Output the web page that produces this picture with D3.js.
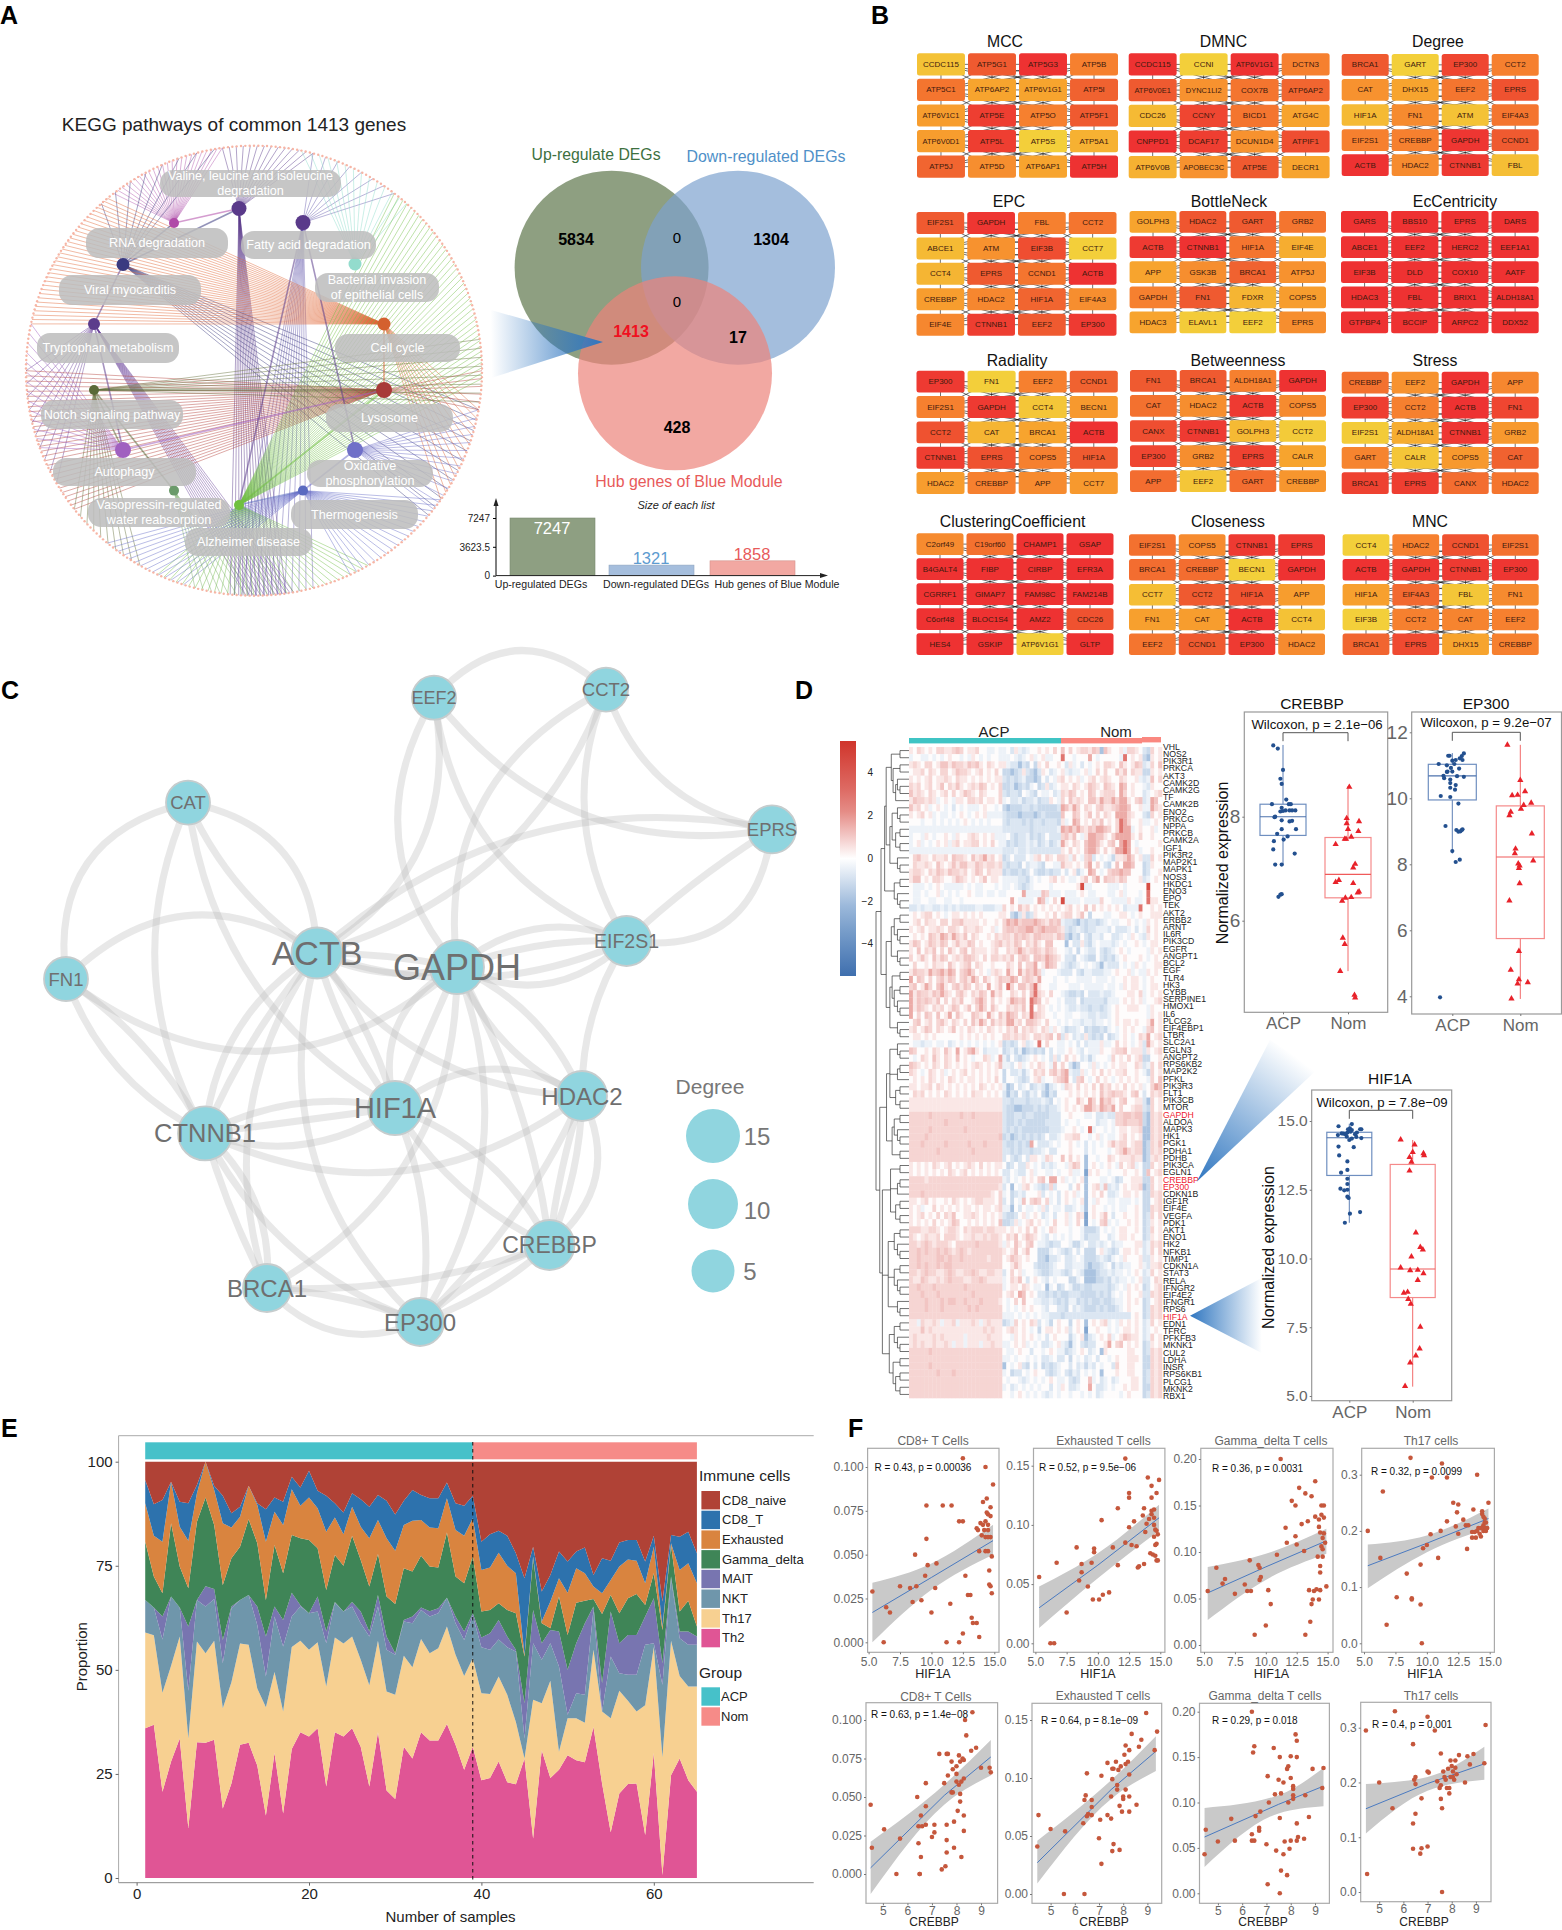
<!DOCTYPE html>
<html><head><meta charset="utf-8">
<script src="https://cdn.jsdelivr.net/npm/d3@7"></script>
<style>html,body{margin:0;padding:0;background:#fff}svg{display:block;font-family:"Liberation Sans",Arial,sans-serif}</style>
</head><body><svg id="c" width="1562" height="1930" viewBox="0 0 1562 1930"></svg>
<script>
/* ===== A: pathways ===== */
const pathwayNames=["Valine, leucine and isoleucine|degradation","RNA degradation","Fatty acid degradation","Viral myocarditis","Bacterial invasion|of epithelial cells","Tryptophan metabolism","Cell cycle","Notch signaling pathway","Lysosome","Autophagy","Oxidative|phosphorylation","Vasopressin-regulated|water reabsorption","Thermogenesis","Alzheimer disease"];
const pathwayFans=[["Valine",-8,15,14],["Valine",172,186,14],["RNA",-38,-8,24],["Fatty",15,38,8],["Fatty",165,185,12],["Bacterial",12,42,14],["Viral",100,130,12],["Viral",-42,-10,8],["Tryptophan",-120,-90,10],["Tryptophan",170,182,14],["Cell",-78,-40,34],["Cell",100,125,12],["Lysosome",-128,-90,30],["Lysosome",90,100,6],["Notch",82,98,8],["Notch",-150,-128,10],["Autophagy",-110,-78,14],["Oxidative",100,128,14],["Alzheimer",38,92,40],["Alzheimer",150,205,34],["Thermogenesis",125,155,18],["Thermogenesis",-162,-140,14],["Vasopressin",-180,-165,8]];
const rimLeafCount=330;
const vennCounts=[5834,1304,0,0,1413,17,428];
const listNames=["Up-regulated DEGs","Down-regulated DEGs","Hub genes of Blue Module"];
const listSizes=[7247,1321,1858];
/* ===== B: hub gene grids ===== */
const gMCC="CCDC115 ATP5G1 ATP5G3 ATP5B ATP5C1 ATP6AP2 ATP6V1G1 ATP5I ATP6V1C1 ATP5E ATP5O ATP5F1 ATP6V0D1 ATP5L ATP5S ATP5A1 ATP5J ATP5D ATP6AP1 ATP5H".split(" ");
const hMCC=[1.3,4,5,3,3.3,2,2,3.8,2.2,4.7,3,4,2.2,4.7,1,1.7,3.7,2.6,2,5];
const gDMNC="CCDC115 CCNI ATP6V1G1 DCTN3 ATP6V0E1 DYNC1LI2 COX7B ATP6AP2 CDC26 CCNY BICD1 ATG4C CNPPD1 DCAF17 DCUN1D4 ATPIF1 ATP6V0B APOBEC3C ATP5E DECR1".split(" ");
const hDMNC=[5,1,5,3,4,2.5,3.3,3.7,1.5,4.5,3.3,2,5,4.7,2.5,4.3,1.7,2.5,4,2];
const gDegree="BRCA1 GART EP300 CCT2 CAT DHX15 EEF2 EPRS HIF1A FN1 ATM EIF4A3 EIF2S1 CREBBP GAPDH CCND1 ACTB HDAC2 CTNNB1 FBL".split(" ");
const hDegree=[4,1,4.5,3,2.5,2,3.3,4.2,1.5,2.7,1.3,3.3,3,3,4.9,4,5,2.7,4.8,1.4];
const gEPC="EIF2S1 GAPDH FBL CCT2 ABCE1 ATM EIF3B CCT7 CCT4 EPRS CCND1 ACTB CREBBP HDAC2 HIF1A EIF4A3 EIF4E CTNNB1 EEF2 EP300".split(" ");
const hEPC=[4,4.9,3,3.3,1.5,2.5,4.3,1,1.6,4,3.3,5,2.2,2.8,3.7,2.6,2.8,4.7,4,4.8];
const gBottleNeck="GOLPH3 HDAC2 GART GRB2 ACTB CTNNB1 HIF1A EIF4E APP GSK3B BRCA1 ATP5J GAPDH FN1 FDXR COPS5 HDAC3 ELAVL1 EEF2 EPRS".split(" ");
const hBottleNeck=[2,4.1,4,3.3,4.8,5,3.3,1.8,2,2.6,3.8,2.5,3,4,1.6,2.2,2,1.1,1,2.6];
const gEcC="GARS BBS10 EPRS DARS ABCE1 EEF2 HERC2 EEF1A1 EIF3B DLD COX10 AATF HDAC3 FBL BRIX1 ALDH18A1 GTPBP4 BCCIP ARPC2 DDX52".split(" ");
const hEcC=[5,5,5,5,5,5,5,5,5,5,5,5,5,5,5,5,5,5,5,5];
const gRadiality="EP300 FN1 EEF2 CCND1 EIF2S1 GAPDH CCT4 BECN1 CCT2 CAT BRCA1 ACTB CTNNB1 EPRS COPS5 HIF1A HDAC2 CREBBP APP CCT7".split(" ");
const hRadiality=[4.8,1,3,3.8,3,4.8,1.2,2.3,4.2,1.6,2,5,4.7,4.2,3,4,2.2,3,2.7,2.3];
const gBetween="FN1 BRCA1 ALDH18A1 GAPDH CAT HDAC2 ACTB COPS5 CANX CTNNB1 GOLPH3 CCT2 EP300 GRB2 EPRS CALR APP EEF2 GART CREBBP".split(" ");
const hBetween=[4,4,3,5,3.4,2.6,4.8,2.7,4.3,4.8,1.5,1.1,4.5,2.6,4.6,2,3.5,1.2,3.5,2.4];
const gStress="CREBBP EEF2 GAPDH APP EP300 CCT2 ACTB FN1 EIF2S1 ALDH18A1 CTNNB1 GRB2 GART CALR COPS5 CAT BRCA1 EPRS CANX HDAC2".split(" ");
const hStress=[3.4,2.5,5,2.8,4.7,3,5,4.5,1.1,1.8,4.9,2.3,2.9,1.2,2.3,3.8,4.6,4.7,3.5,3.3];
const gCluster="C2orf49 C19orf60 CHAMP1 GSAP B4GALT4 FIBP CIRBP EFR3A CGRRF1 GIMAP7 FAM98C FAM214B C6orf48 BLOC1S4 AMZ2 CDC26 HES4 GSKIP ATP6V1G1 GLTP".split(" ");
const hCluster=[2.7,3.4,5,5,5,5,5,5,5,5,5,5,5,5,5,4.2,5,5,1,5];
const gClose="EIF2S1 COPS5 CTNNB1 EPRS BRCA1 CREBBP BECN1 GAPDH CCT7 CCT2 HIF1A APP FN1 CAT ACTB CCT4 EEF2 CCND1 EP300 HDAC2".split(" ");
const hClose=[3.4,2.7,4.8,4.8,3.5,3.5,1,5,1.4,4,4.2,2.2,2.1,2.2,5,1.3,3.3,4,4.8,2.7];
const gMNC="CCT4 HDAC2 CCND1 EIF2S1 ACTB GAPDH CTNNB1 EP300 HIF1A EIF4A3 FBL FN1 EIF3B CCT2 CAT EEF2 BRCA1 EPRS DHX15 CREBBP".split(" ");
const hMNC=[1,3,4.2,3.4,5,4.9,4.8,4.9,2.1,3.6,1.2,2.7,1,3,2.9,3,3.7,4.4,2,3];
/* ===== C: network ===== */
const netEdges=[["CAT","FN1",-.45],["CAT","ACTB",.4],["CAT","ACTB",-.15],["CAT","CTNNB1",-.25],["CAT","HIF1A",-.25],["FN1","ACTB",.4],["FN1","GAPDH",-.4],["FN1","CTNNB1",.12],["FN1","CTNNB1",-.2],["EEF2","GAPDH",-.35],["EEF2","EIF2S1",-.3],["EEF2","ACTB",.35],["EEF2","CCT2",.5],["EEF2","EPRS",-.3],["CCT2","GAPDH",-.35],["CCT2","ACTB",.25],["CCT2","EIF2S1",-.25],["CCT2","EPRS",-.3],["EPRS","ACTB",-.25],["EPRS","EIF2S1",.5],["EPRS","EIF2S1",-.05],["GAPDH","EIF2S1",.3],["GAPDH","EIF2S1",.1],["GAPDH","EIF2S1",-.35],["ACTB","EIF2S1",-.2],["EIF2S1","HDAC2",-.15],["ACTB","GAPDH",.05],["ACTB","GAPDH",-.18],["ACTB","CTNNB1",-.25],["ACTB","CTNNB1",-.08],["ACTB","HIF1A",.1],["ACTB","HIF1A",-.1],["ACTB","EP300",-.3],["ACTB","HDAC2",-.25],["ACTB","BRCA1",-.25],["GAPDH","HIF1A",0],["GAPDH","HIF1A",-.4],["GAPDH","HDAC2",.2],["GAPDH","HDAC2",-.2],["GAPDH","BRCA1",.3],["GAPDH","EP300",.25],["GAPDH","CREBBP",.1],["HIF1A","CTNNB1",-.18],["HIF1A","CTNNB1",0],["HIF1A","CTNNB1",.25],["HIF1A","HDAC2",.35],["HIF1A","CREBBP",.2],["HIF1A","CREBBP",-.15],["HIF1A","EP300",.15],["CTNNB1","HDAC2",-.3],["CTNNB1","BRCA1",.25],["CTNNB1","BRCA1",-.05],["CTNNB1","EP300",-.2],["HDAC2","CREBBP",.4],["HDAC2","CREBBP",.1],["HDAC2","CREBBP",-.05],["HDAC2","EP300",.1],["CREBBP","EP300",.1],["CREBBP","EP300",-.1],["BRCA1","CREBBP",-.1],["BRCA1","EP300",.08],["BRCA1","EP300",-.35]];
const netNames=["EEF2","CCT2","CAT","EPRS","FN1","ACTB","GAPDH","EIF2S1","HIF1A","HDAC2","CTNNB1","CREBBP","BRCA1","EP300"];
const legendDegree=[15,10,5];
/* ===== D: heatmap ===== */
const heatGenes="VHL NOS2 PIK3R1 PRKCA AKT3 CAMK2D CAMK2G TF CAMK2B ENO2 PRKCG NPPA PRKCB CAMK2A IGF1 PIK3R2 MAP2K1 MAPK1 NOS3 HKDC1 ENO3 EPO TEK AKT2 ERBB2 ARNT IL6R PIK3CD EGFR ANGPT1 BCL2 EGF TLR4 HK3 CYBB SERPINE1 HMOX1 IL6 PLCG2 EIF4EBP1 LTBR SLC2A1 EGLN3 ANGPT2 RPS6KB2 MAP2K2 PFKL PIK3R3 FLT1 PIK3CB MTOR GAPDH ALDOA MAPK3 HK1 PGK1 PDHA1 PDHB PIK3CA EGLN1 CREBBP EP300 CDKN1B IGF1R EIF4E VEGFA PDK1 AKT1 ENO1 HK2 NFKB1 TIMP1 CDKN1A STAT3 RELA IFNGR2 EIF4E2 IFNGR1 RPS6 HIF1A EDN1 TFRC PFKFB3 MKNK1 CUL2 LDHA INSR RPS6KB1 PLCG1 MKNK2 RBX1".split(" ");
const heatLevels={a:-3,b:-1.9,c:-1.2,d:-.8,e:-.4,f:.05,g:.45,h:.8,i:1.1,j:1.6,k:2.8,l:4.5};
const heatRows=`gfhgfgfhhgghihfgghffeefe|efdgedeffgfgfhf|ifhfghhgihbigffgehhgf|dc|hfg
effeefefefgffefegfefeffe|eefedefgefgeeff|kffefffjfefffffekfgfg|cb|gfg
ghgfhhfgiigihhgihigfhgfg|geddbdcfcgfhffg|fdgefdfefgfhhgfigfgih|de|hfi
fgghfhgfhhfgihhgfghfgfhf|ccbcdgdcbdgfdef|gedeefgefhfhffigifhgg|cc|gfg
gfgfghfgghgfhggfgfgfgfgg|dcdcdeccbcfdfeg|hfgfgefghfghgffhgffge|de|ifh
hghfghfgifhgigfghgihfgfh|ccdbcdcefcdgdef|ggfhgfgihgfihgfjifgff|ed|gff
ighgfhgfghfhfgihgfhgfffh|dcddcfedcfeefde|hgihfgfihfghhhfjhfgff|de|fgh
gihhghgefgfeggfhhghfggfh|efddecddecddgfe|hfighgfiigjhhjhjjgfhi|de|jif
ighfgefgfefdfefeeefgffef|cbcccddcdcccccd|jigjhfhgfhigghijjiffg|ee|jhg
gfghfgefeefefgfefgfgeeee|dcccbcccbcdcccc|iffihfgifhfhgfjjjhgff|dc|hfg
fffeffefefefefgfefefefff|dcdddcdcddcdddc|gefjifgfhgifgfhkjhffg|ee|fgf
eeeeeeeeeeeeeeeeeeeeeeee|dddddddcdddddde|jijhjhgihjjihfhkjjefg|ff|gef
effegfeffgfegffghgfgfgee|efdcddecdcdfddd|higifegjjiigfhjjjjgfh|ff|gff
efgefefgfgeghfgghhfgfhfe|ecdcddedecdecde|jgfhgfijjigfhifjkjfef|ff|ffg
eeeeeeeeeeeeeeeeeeeeeeee|dddeddedddddddd|gfhfgfijjhfhfgjjkjfge|ff|gff
fhiggfhgghfihhgfighjghfg|cdfdddfeghfhgfh|hgehfehidfefecgghjhfg|dd|hfg
fhgghgfigfgigiiggihghhgh|dcddcfdeedcffee|iggfgfhjfhfdcfifjjiff|cd|gff
ghhgfhgihgihhghfgihfhggg|cdccdcdfdccdcdd|fdfgcefjifefhiijiifff|cd|ffg
giifgfhhgffgihgfgfgifggf|eeeeddcefeffghf|gfeefgifhjfihhgihfffg|de|fgf
feeefefgfeeeeefefeefffef|eefedcdeffffeff|ffffgleeffffeeefeffff|fl|fff
feefeffgefefeffgfeefeefe|effffjeeeeiheee|feeefgfeefffeefgefffe|fk|fff
feeffeeffeeffeffffffffff|ffjfeeeefjiefhf|leeeefeeeehffeeeegfee|fk|ggf
ddedeeddedededdddeedddee|hfgfighfgfgfgfg|fghfgfifhfgfgfgfdeeek|ff|gfg
fgfghhfgfefggfgfgfgffffg|gfcbdgcdgffgfhf|ghhfgifcfffeeffggfefg|ff|ggg
fghfhggfhhfhhiggggfgffgf|hjijhiiijihgihi|eddcbdcddcdefeeffgfef|eg|fgf
gfghfgghgfhhgfhgghgffgef|hiihiijjhijiiih|gdcdedcddeeedfdddefdf|eh|fgf
fgfgfihgjigjhgifhgffgfhg|hhgihihgiihhhgi|hcbdcfdceedffddefegfe|dg|fgf
gihfgihgihfgiggihfgffghi|ghgihfhgigfiiff|fbfddgdcefeeedefeffgf|ef|ggf
gfifhgifhfigfhifhgggfghf|fhghjhghihgihgf|fedfcfeddfdcdefgfefff|fe|gfg
hfgigfigihfghgiihgfhfhhg|hgifhihfiihjihg|fddcfedccfdcdcefgfffg|fe|fgf
fhffgfhggfigfghifhgffgff|fhgfifhhjfgjihf|edcdefefedbedddfefegf|ef|fgg
gihhgjhijhjifhijhfgfeghg|fjgfjgihjhefffe|dddfdceedddeefgffgefe|eg|fgf
jfihfhfhigihfhigjhfigfgi|hhjifhihgjfffef|feffeeeefeeefeffgfggf|ef|gff
hifgjhfijgfhigihfhgfjfgi|fkhfiigikgffeef|ffeeefeeeeefeefegfggf|ef|ggf
jgihhgihjhgfhigfhgihfjgh|ffhgfhfikhgfhff|edccdcfdddeddefffggfh|ef|gfg
jgihihgifhfhgiffgijhfhfg|fgjihifkjifgffe|fdddfcdddddceeefgfgfg|ef|fgh
jgihgfhghfgihfgifhjhfigf|fhghgifkfhgfefe|feddeddcddcdefgffgggf|fe|gff
jfhfihfifgjfigffihgfjgfi|gjihfhgkihgffef|feeffeeddeddefgffffff|fe|gfg
fhifghfhigfhgfhfigjhfigh|gjjghfiihgfhffe|fefeedeedeefefgfggfgf|fg|jfg
ghfgihfhgfgifgfhgfgfhgfg|fhgifhghgfhgegf|ecddefcdccdcefefgfgff|eh|ifg
fggfgfgffffffgfgfgfgfgff|hhghghgfhhghifi|dgfdedgdcdcfcdefgfefh|gj|fgh
feedeefeefdefefefefefefg|cdcdfgdefkfhffe|efefdfdeeegeefhfgfefg|dj|gfg
ihffgfhgfigfjfgijgfdeeef|cdecebcdcdcfdfe|efgfedfeeegffghhifggg|dg|fgh
fefhgfigfhgfifgfeffhgefj|ecfdcdefgfefdgd|fhfgfdecefffehfgfhfgh|cc|ffg
ihgfgfhgfhgfgfgfghgfgfgi|eedfgefgfhgfeif|hfdbcffegefefgfggffhg|de|hfh
hgfefhgfgefgfghfgfgfgfgf|cfddecefhghfhig|ijeddgefgfhfgfgghffgf|ec|hfg
fgfgfhgfgfhgfgfggfgfgfhf|cffedcdfgheffgh|ijfdhifefhfgfefgfgfgf|fe|hfi
ggfgghfhgfgfgfgfgfhgfgfg|ebcfdefcdedbdef|ehgfhfgfhfighfgfhfgfg|ef|hji
fhghfgfgfhgfgfgfhggfgfgf|dbdcfdcedfcbdcf|ffgfgfgfgfighihhgfhif|df|hgh
gggggggggggggggggggggggg|ddcdddcdddedcfe|fgffigfjhfjhigfhiffgg|db|hfg
gggggggggggggggggggggggg|dccbbcccdcdcdde|fgfgfgjjhgjihjfhffghh|dc|hfg
hhhhhihhhhhhhihhihhhhhhh|dccddcddccccddd|ffgfffeefddeddhhiihii|cb|hgh
hhhhhhhhhihhhhhhhhhhhhhh|dccdcdcccccdddd|feffeffffdeefehhihhhi|cb|hgh
hhhhhihhhhhhhhihhhhhhhhh|dcdcdcccccccddd|effgfefkeffefefggfggh|bb|hgh
hhhhihhhhhhhhhhhhhhhhhhi|cdbcdcdcdcdfdde|fgghhffefgefeefghfgfg|bb|hgh
hhhihhhhhihhhhhihhhihhhh|dccdcdcjfdddefe|ffgfefdfefefgighhfghh|bc|hgi
hhhhhhhihhhhhhhhihhhhhhh|ddcdcddcddefddf|ffgfffdfefffefghjhghh|bc|hgh
hhhhhhhhhhhhhhhhhhhhhhhh|dfdcdfdggfehgff|ifhfgfbffeffhgfggghgg|bc|ghg
gfgfgfhgfghfgfghgfhfgfgg|fcdfddgfefdedef|fegihfbfgfefgfehfghef|cc|hfg
gfgfgfgfgfhgfghfgfgfgfgf|ddfeddfgeffeefe|ffgeefagfgffefffgffgf|ci|fgh
hhhhghhhhhhhhhhhhhhhhhhh|edfefgfgfhifjjf|gefefgbfffeefecdffggg|cc|hfg
hhhhhhhhhhhhhhhhhhhhhhhg|dfbfeghfedcdhdf|ffdfhfbfgheidedfgfggh|bc|hfg
hhhihhhhhhhhhhhhhhhhhgfh|efcdedfffgdfefd|fgfgefbfgfhfddefggfgf|cc|hgh
ggfghfgffgfhgfgfghhgggfh|dfcfeifhihfhefd|fgfefgbfegffeefeeefef|cc|fgh
gfgeffhfgfgfgfggfgfggfgh|eebfdfeefegdfee|fddefebfgffefefeeffgf|cc|hgh
gfghfgfhfhgiffgghgfgfgfg|dccdfgefgfdefdf|fgefhgafgfgifdffgffgf|cd|hfh
gfgfgfhfgfgihffgfgfgfgfi|ccdgefghfgfefhf|fgefhfafefhiefeffgfgf|cd|gfg
hhhgghhgfghhgfhghhhghhgg|gfgfgfhfhfefhgf|ffeffecccdfefefggffgf|cd|hfg
hgfghgghfhhhgfgghgghghhg|fhgifgihgfedfef|efeffecdddffdefggfgff|cd|gfg
hhghihghhhgfhhhhhihhhhhg|egfigfhifeedcdd|ffeccefddedefdeefffgg|de|hgh
hhihihhihihghihghhhhhhhh|gfgifgiffcccefe|dcdfdfcccfgedcdfggfgf|de|hfh
hhihhhhiihihhihhhhhhghhh|fgihgfgffccbdde|fddefecccdedcefegfffg|dd|gfg
hhihihhihiihhhhhhhhhhhhh|ffgigfffdcccdef|fddeeecbccdefcedeeffg|ed|ggh
hhghihhgghihgghhihgghhgg|dfhfgeffedccdee|dcdfedbbbcddedeefefgf|de|hfg
hggihgghghihhhgghhihgggg|efhgifdfgfedfef|ffccefbbbccdcedeefefg|dd|fhg
hhihhhihhhhhhhihhhhhhhhh|efggfhgfeefbefc|dfeccdccddddcdefegfgf|cd|fgh
hhhihhhihhhhhhhhihhhhhhh|fghfjifgfddcdcd|ccdddccccdcdcefefgffg|dd|hgh
hhhhihhhihiihhihhhihhhhg|fefhfiffeeddedc|dceecdcdccdccdeefgfgf|cd|fgh
hhhhihhhihhhhhhihihhhhhh|fefefgfgffedffd|dcfdedcccdcdccdefgfff|cd|hgh
hhhhhhhhhhhhhhhhhhhhhhhh|eeefefefefeeddd|cdddddddddddddddddfgf|cd|hgh
ggehgghgeggheggghgeghggg|cdehfgfhgdfecfg|ffcfgfbfgfghefegfgfgf|de|hfg
gggighggggggggggggghghgg|fghgfgfefcfggfg|fgdfgfaffgffefefggfgf|de|fgf
ghgggghghgggggeggggghggg|ffegfgfgfefdfgf|ffcefgbdefgfhefgihggf|de|hfg
ghghgghgghgeggegggegghgg|eefgfgefefddefg|edbefdcddffgjfhifgfgf|cd|gfg
hhhhhihhhhhhhhhhhhhhhhhh|feefgffdffefgfe|ecdefgfdefbgfffffggff|cd|hgh
hhhhhhhhhhhhhhhhhhhhhhhh|eefeffefefddefd|dfcfefdefdffefgffgggf|cc|hgh
hhhhhihhhhhhhhhhhhhhhhhh|bfefgdcfdfcdcde|ffdfdecedfeffdhffggff|cc|hgh
hhhhhhhihhhihhhhhhhhhhhh|efcddfefgffdcde|fdcedfefefbfffgffggff|cd|hgh
hhhhhhhhhhhhhhhhhhhhhhhh|feffedefefefgfe|efdcdffiefdefdefffggf|cd|hgh
hhhhhhhhhhhhhhhhhhhhhhhh|efdefefefeffdfe|gfddeffjfddefeffgfggf|cc|hgh
hhhhhhhhhhhhhhhhhhhhhhhh|ffefgfefefedefe|ffeffefefdeffffefgfff|cd|hgh`.split("\n");
const dendroA="((((..)((..)((.(..)).)))(((.(..))((..)(..)))(.(..))))((..)(.(..))))";
const dendroB="((((..)(.(..)))(.(..)))(((..)((..)(.(..))))(.(..))))";
const dendroC="((.(..))((..).)((..)(..)))";
const dendroD="(((..)(.(..)))(..))";
const dendroE="((..)((..).)((..)(..)))";
const dendroF="(((..)(.(..)))((..)(.(..)))(.(..)))";
const dendroG="(((..)(.(..)))((..)((..)(..))))";
const dendroTree="(("+dendroA+dendroB+")(("+dendroC+dendroD+")("+dendroE+dendroF+dendroG+")))";
const redGenes=["GAPDH","CREBBP","EP300","HIF1A"];
const colorTicks=[4,2,0,-2,-4];
/* boxplots: [jitter, value] */
const crebbpACP=[[-.15,9.37],[-.08,9.31],[0,8.9],[-.04,8.73],[-.02,8.63],[.05,8.33],[-.17,8.24],[.09,8.24],[.12,8.24],[-.02,8.17],[.19,8.12],[.14,8.12],[.1,8.12],[.04,8.12],[0,8.11],[-.04,8.1],[-.12,8],[-.13,7.99],[.14,7.92],[.1,7.91],[-.02,7.93],[-.02,7.76],[.2,7.76],[-.09,7.67],[.07,7.62],[.01,7.56],[-.14,7.53],[-.15,7.37],[.18,7.29],[-.12,7.08],[-.02,7.08],[-.07,6.46],[-.04,6.5],[-.02,6.51]];
const crebbpNom=[[.02,8.57],[-.02,7.97],[.17,7.91],[-.02,7.87],[0,7.76],[.16,7.72],[.05,7.61],[-.05,7.57],[-.03,7.57],[-.19,7.47],[.11,7.09],[.08,7.02],[-.14,6.78],[-.19,6.74],[.08,6.72],[.17,6.56],[.15,6.54],[-.04,6.44],[.05,6.45],[-.09,6.38],[-.08,5.67],[-.05,5.55],[-.12,5.03],[.1,4.57],[.11,4.52]];
const ep300ACP=[[-.06,11.29],[-.04,11.29],[.17,11.36],[.14,11.28],[.11,11.21],[.15,11.16],[.05,11.16],[0,11.14],[-.2,11.04],[-.08,11],[.03,11.04],[.1,10.9],[-.02,10.92],[-.07,10.81],[0,10.81],[-.08,10.8],[-.13,10.68],[-.12,10.61],[.07,10.67],[.17,10.65],[-.03,10.57],[.05,10.4],[-.03,10.46],[-.03,10.32],[.04,10.26],[-.17,10.07],[-.03,10.04],[.09,9.84],[-.1,9.16],[.06,9.04],[.14,9.04],[.09,8.99],[.12,9],[.15,9.06],[0,8.4],[.11,8.14],[.05,8.07],[-.18,3.97]];
const ep300Nom=[[-.19,11.62],[0,10.55],[.07,10.21],[-.12,10.09],[-.04,10.1],[.05,9.79],[.16,9.86],[.01,9.68],[-.14,9.59],[-.16,9.48],[.17,8.93],[-.07,8.47],[-.08,8.33],[.19,8.11],[-.03,8.02],[-.01,7.96],[-.02,7.88],[-.01,7.42],[-.16,6.9],[-.02,5.37],[-.14,4.8],[-.02,4.51],[.11,4.42],[-.04,4.38],[-.13,3.93]];
const hif1aACP=[[-.17,14.81],[.04,14.89],[.01,14.73],[-.02,14.7],[.17,14.7],[.19,14.7],[-.03,14.58],[.12,14.58],[.04,14.67],[-.18,14.49],[-.12,14.55],[-.09,14.54],[-.06,14.52],[.02,14.61],[.09,14.52],[.11,14.42],[-.04,14.43],[-.17,14.07],[.07,14.05],[.19,14.38],[0,14.31],[.04,14.36],[-.16,13.75],[-.03,13.53],[-.03,13.22],[-.13,13.12],[-.03,12.9],[-.03,12.71],[-.14,12.54],[-.03,12.5],[-.08,12.48],[-.03,12.25],[-.01,12.2],[.01,11.63],[.17,11.69],[-.07,11.3]];
const hif1aNom=[[-.19,14.32],[.03,14.14],[0,13.87],[-.05,13.68],[.17,13.82],[.18,13.75],[-.02,13.51],[-.05,13.19],[.05,10.94],[.12,10.41],[.16,10.32],[-.02,10.07],[-.19,9.67],[-.04,9.57],[.08,9.58],[.17,9.46],[.08,9.21],[-.14,8.75],[-.08,8.78],[-.07,8.52],[-.03,8.35],[.12,7.51],[.11,6.72],[.05,6.47],[-.04,6.21],[-.12,5.36]];
/* [lowWhisker,q1,median,q3,highWhisker] */
const crebbpStats=[[7.06,7.64,8,8.24,9.38],[5.03,6.44,6.89,7.6,8.59]];
const ep300Stats=[[8.33,9.95,10.68,11.03,11.37],[3.92,5.75,8.22,9.77,11.62]];
const hif1aStats=[[11.3,13.02,14.39,14.59,14.9],[5.34,8.58,9.62,13.42,14.31]];
/* ===== E: stacked cumulative tops, samples 1..65 ===== */
const topTh2=[36,36.8,20.7,28,33.5,12,32.6,32.5,33.2,16.7,22.7,32,32.5,27,15,30,15.5,31,35,34,36,22,35,34,36,31.5,22,35,21,19,31.5,28.7,35,33,33,37,32,26,31.5,23.5,24,28,23,22.5,28.7,9.5,30.7,24,26,29.5,28.3,27.8,36.3,22.7,11,20.3,22.6,22.7,10.3,30,.7,24.7,28.7,23.5,20.7];
const topTh17=[59,58.3,44.5,51,58,33.5,56.8,54,57,40.8,47,56.3,56,45.5,41,49.5,40,55.5,57,54.8,56.6,46,57.8,56.3,58,52.4,46.3,57,44.8,44,53.4,50.6,57.4,54,55.2,60.4,53.6,48.5,52.8,44.4,44.2,48.4,44,37.5,28.7,42.8,42,47.4,30.3,38.4,38.4,37.3,54.8,40,38.4,45,42.6,40,41.5,55.5,29,57,48.5,46,46];
const topNKT=[66.8,65,57.3,67.6,65,45,66.8,65.2,67,51.6,64.8,66.8,68,60.8,48.4,62.8,55.6,62.8,65.2,63.6,64,56.4,66.1,64,65.2,61.2,58,65.2,54.8,53.6,61.6,61.2,64.4,62.8,63.6,67.3,61.2,57.2,63,55.4,54.8,57.3,55.4,54.4,33.5,56.4,52.4,56.4,50.8,39.2,44.4,44,64.4,40,53.2,49.2,48.8,48.8,56,56.4,46.4,72,57.6,56,56];
const topMAIT=[66.8,65,62.8,67.6,65,60.4,66.8,70.1,69.4,57.2,65.2,66.8,68,65.2,58,65.2,62,68.5,65.5,63.6,67.6,59.2,66.3,64,66.3,64,59.2,68,58,54,62,62.8,65,64.1,64.8,67.3,62.8,59.2,63.6,57.8,58.8,62,58,54.8,42,64.4,56.4,59.6,59.2,50,56.4,61.2,65.2,46.8,64,56.4,58.4,58.4,62.8,67.2,51.6,72.4,59.2,59.2,58];
const topGamma=[80.8,72.4,68.4,85.2,74.8,69.6,85.6,91.4,84.8,70.4,76.8,79.6,86.2,80.4,66.8,80,73.2,82.4,81.6,81.2,79.2,69.2,77.6,75,82.2,76.4,70,77.8,67.6,65.8,74.4,73.6,77.4,74.8,74.6,83,72.4,70.8,77.2,64,64.4,66,64.4,63.6,53.2,76.8,61.2,60,67.6,58.4,66.1,66.6,67,63.4,68,63.6,67.2,68.2,65.6,73.2,59.6,80,64,66.6,60.4];
const topExhausted=[90,82.2,80.8,95.2,84.4,81,92.4,100,93.2,85.2,84.2,86.8,94.2,89.6,80.8,88,84.8,93.4,89.4,91.4,88.8,83.2,86.6,82.6,89.2,84.4,81.6,86,81.6,78.6,84.8,85.8,86,84.2,84,91.2,83.6,82.2,86.4,74,74.6,78.1,75,73.2,53.6,77.2,61.6,66.4,72,68.5,74.4,73.2,70,68.4,71.6,74.8,76.5,76.2,70.8,79.6,60.4,80.4,74,75.6,70.8];
const topCD8T=[95.6,89.8,90.8,95.2,90.4,90,94.4,100,94.2,91.8,87.6,89.2,94.2,90,88.6,91.4,90.4,96.4,93.8,97.8,93,91.8,90,87.8,92.4,91,89.2,92,90.6,87.3,90.6,93.2,92,91.2,91.2,95,90,89.4,91.8,80.8,82.6,83.4,82.2,78,72,79.6,68.8,72.8,78.4,76,78.4,79.4,72.8,76.8,76.2,80.6,81.2,81.2,76,82.2,66.4,82.4,82,83.2,78];
const cellNames=["CD8_naive","CD8_T","Exhausted","Gamma_delta","MAIT","NKT","Th17","Th2"];
const cellColors=["#b04236","#2d72ad","#d9843f","#3f8557","#7875b0","#6f96ab","#f7d091","#e05595"];
const groupNames=["ACP","Nom"];
const groupColors=["#46c1c9","#f68b88"];
/* ===== F: scatter ===== */
const sCD8H=[[5.3,.029],[6.2,0],[6.4,.02],[6.7,.017],[7.5,.032],[8.3,.031],[8.5,.023],[8.8,.032],[8.7,.05],[9.2,.024],[9.5,.038],[9.6,.078],[9.6,.059],[9.7,.044],[10,.017],[10.3,.031],[10.4,.045],[10.9,.078],[11.2,0],[11.5,.022],[11.6,.078],[12.2,0],[12.2,.069],[12.5,.069],[12.5,.005],[12.7,.038],[12.9,.027],[13.1,.027],[13.2,.014],[13.3,.011],[13.6,.011],[13.8,.003],[12.5,.105],[13.6,.065],[13.7,.064],[13.9,.068],[14,.061],[14.1,.067],[14.2,.064],[14.3,.069],[14.3,.1],[14.3,.06],[14.4,.082],[14.4,.074],[14.5,.067],[14.5,.064],[14.5,.052],[14.5,.073],[14.6,.041],[14.6,.033],[14.7,.032],[14.7,.06],[14.7,.072],[14.7,.077],[14.8,.049],[14.8,.028],[14.9,.09],[14.1,.08],[13.8,.052],[14.3,.052],[14.5,.06]];
const sExhH=[[5.3,.056],[6.2,0],[6.5,0],[6.7,.068],[7.5,.026],[8.3,.081],[8.5,.053],[8.7,.067],[8.7,.06],[9.2,.048],[9.5,.068],[9.6,.037],[9.7,.077],[9.7,.08],[10.1,.037],[10.4,.041],[10.3,.104],[10.9,.043],[11.2,.081],[11.6,.114],[11.6,.066],[12.2,.156],[12.2,.085],[12.5,.127],[12.5,.123],[12.5,.098],[12.7,.083],[12.9,.103],[13.1,.082],[13.2,.064],[13.3,.065],[13.6,.108],[13.7,.114],[13.7,.067],[13.8,.094],[13.9,.101],[14,.14],[14.1,.105],[14.2,.076],[14.3,.112],[14.3,.123],[14.3,.133],[14.3,.109],[14.4,.075],[14.5,.113],[14.5,.106],[14.5,.09],[14.5,.1],[14.6,.074],[14.6,.096],[14.6,.083],[14.7,.127],[14.7,.095],[14.7,.07],[14.7,.084],[14.8,.092],[14.8,.07],[14.9,.138]];
const sGamH=[[5.3,.058],[6,.083],[6.5,.066],[6.7,.071],[7.5,.055],[8.3,.065],[8.5,.058],[8.7,.091],[8.8,.058],[9.1,.011],[9.4,.086],[9.5,.083],[9.5,.07],[9.6,.073],[10,.021],[10.2,.059],[10.4,.044],[10.9,.097],[11.2,.2],[11.6,.126],[11.7,.11],[12.1,.155],[12.4,.15],[12.4,.117],[12.5,.108],[12.7,.169],[12.9,.13],[13.1,.101],[13.2,.011],[13.2,.163],[13.4,.133],[13.5,.059],[13.6,.025],[13.7,.16],[13.7,.044],[13.8,.049],[13.9,.058],[14,.176],[14,.138],[14.1,.06],[14.2,.095],[14.3,.049],[14.3,.127],[14.3,.135],[14.4,.059],[14.4,.085],[14.4,.078],[14.4,.121],[14.5,.15],[14.5,.14],[14.5,.106],[14.6,.095],[14.6,.115],[14.6,.103],[14.7,.15],[14.7,.137],[14.7,.12],[14.8,.11],[14.9,.063]];
const sThH=[[5.3,.2],[6.3,.152],[6.5,.27],[6.8,.033],[7.6,.082],[8.4,.124],[8.7,.33],[8.8,.08],[8.8,.078],[9.5,.14],[9.5,.069],[9.6,0],[9.7,.169],[10,.175],[10.3,.194],[10.4,.295],[10.9,.152],[11.2,.32],[11.6,.295],[11.6,.217],[11.1,.2],[12.1,.25],[12.3,.208],[12.5,.247],[12.4,.233],[12.5,.195],[12.9,.22],[13.1,.21],[13.2,.168],[13.3,.21],[13.6,.198],[13.7,.238],[13.8,.198],[13.9,.188],[14,.3],[14,.2],[14.1,.205],[14.2,.195],[14.3,.19],[14.4,.23],[14.4,.235],[14.5,.225],[14.5,.21],[14.5,.2],[14.6,.205],[14.6,.215],[14.6,.222],[14.7,.2],[14.7,.215],[14.8,.205],[14.9,.25],[13.6,.188],[14.3,.205]];
const sCD8C=[[4.5,.045],[4.55,.017],[5.05,.029],[5.55,0],[5.7,.023],[6.4,.05],[6.45,.02],[6.45,.031],[6.5,0],[6.5,0],[6.55,.011],[6.55,.038],[6.6,.031],[6.75,.059],[6.75,.032],[6.75,.044],[7,.024],[7.1,.032],[7.1,.027],[7.3,.078],[7.4,.003],[7.5,.059],[7.55,.005],[7.6,.022],[7.6,.014],[7.6,.032],[7.6,.078],[7.65,.078],[7.65,.064],[7.8,.053],[7.8,.073],[7.85,.053],[7.85,.068],[7.9,.034],[7.9,.017],[8,.065],[8,.07],[8,.06],[8.05,.041],[8.1,.058],[8.1,.077],[8.15,.073],[8.15,.052],[8.15,.047],[8.2,.011],[8.2,.06],[8.25,.075],[8.3,.074],[8.3,.062],[8.3,.028],[8.3,.038],[8.35,.1],[8.4,.09],[8.6,.08],[8.65,.105],[8.8,.082],[9,.069],[9.35,.069],[9.4,.066]];
const sExhC=[[4.45,.041],[4.5,.068],[5,.056],[5.55,0],[5.6,.054],[6.4,0],[6.35,.061],[6.4,.081],[6.45,.085],[6.5,.067],[6.5,.104],[6.55,.069],[6.7,.081],[6.7,.075],[6.7,.068],[7,.048],[7.05,.064],[7.1,.102],[7.1,.026],[7.35,.113],[7.35,.068],[7.5,.084],[7.5,.065],[7.55,.108],[7.55,.099],[7.6,.108],[7.6,.043],[7.55,.037],[7.7,.114],[7.75,.094],[7.75,.09],[7.8,.107],[7.85,.038],[7.85,.076],[7.9,.11],[7.95,.071],[8,.084],[8,.082],[8.05,.12],[8.1,.128],[8.1,.112],[8.1,.09],[8.2,.114],[8.25,.071],[8.25,.084],[8.25,.124],[8.25,.103],[8.35,.138],[8.55,.077],[8.65,.127],[8.75,.133],[8.95,.156],[9.3,.124],[9.4,.14]];
const sGamC=[[4.45,.043],[4.5,.07],[5,.057],[5.55,.082],[5.7,.058],[6.4,.058],[6.4,.065],[6.4,.2],[6.45,.155],[6.5,.162],[6.5,.058],[6.55,.085],[6.7,.069],[6.7,.072],[6.75,.09],[7,.054],[7.05,.01],[7.05,.129],[7.1,.1],[7.3,.16],[7.35,.109],[7.4,.047],[7.55,.15],[7.5,.125],[7.55,.083],[7.6,.11],[7.6,.025],[7.7,.122],[7.7,.043],[7.75,.057],[7.85,.02],[7.85,.137],[7.9,.14],[7.9,.1],[7.95,.049],[8,.151],[8,.127],[8,.058],[8.1,.118],[8.1,.115],[8.1,.108],[8.1,.104],[8.2,.175],[8.25,.168],[8.25,.15],[8.25,.077],[8.25,.058],[8.3,.062],[8.55,.06],[8.6,.108],[8.75,.084],[8.9,.137],[9.3,.116],[9.35,.138],[7.55,0]];
const sThC=[[4.45,.295],[4.5,.033],[5,.2],[5.55,.153],[5.65,.33],[6.4,.27],[6.4,.125],[6.45,.205],[6.5,.21],[6.5,.197],[6.5,.143],[6.4,.079],[6.7,.07],[6.75,.08],[6.75,.171],[7,.083],[7,.22],[7.05,.218],[7,.32],[7.3,.295],[7.4,.202],[7.5,.19],[7.55,.195],[7.55,.17],[7.55,.253],[7.6,.153],[7.6,0],[7.65,.22],[7.7,.21],[7.75,.205],[7.8,.19],[7.85,.225],[7.9,.18],[7.9,.19],[7.95,.24],[7.95,.21],[8,.23],[8.05,.22],[8.05,.21],[8.1,.205],[8.15,.24],[8.15,.227],[8.2,.215],[8.3,.25],[8.55,.2],[8.65,.248],[8.75,.233],[8.9,.252],[9.35,.235],[9.4,.305]];
/* fit: [x,lo,fit,hi] */
const fitCD8H=[[5.3,0,.017,.034],[10,.03,.037,.045],[14.9,.05,.058,.067]];
const fitExhH=[[5.3,.013,.03,.048],[10,.055,.066,.076],[14.9,.095,.106,.117]];
const fitGamH=[[5.3,.027,.056,.084],[10,.07,.084,.098],[14.9,.098,.112,.125]];
const fitThH=[[5.3,.098,.138,.176],[10,.162,.178,.192],[14.9,.205,.222,.24]];
const fitCD8C=[[4.5,-.013,.004,.021],[7.5,.045,.051,.058],[9.4,.064,.076,.087]];
const fitExhC=[[4.45,.009,.027,.046],[7.5,.082,.09,.098],[9.35,.106,.123,.136]];
const fitGamC=[[4.45,.029,.062,.094],[7.5,.088,.098,.108],[9.35,.096,.118,.138]];
const fitThC=[[4.45,.107,.152,.197],[7,.185,.198,.21],[9.35,.205,.234,.265]];

/* ===== drawing ===== */
const svg=d3.select("#c"), defs=svg.append("defs");
const F='"Liberation Sans",Arial,sans-serif';
function txt(g,x,y,s,o={}){const t=g.append("text").attr("x",x).attr("y",y).attr("text-anchor",o.a||"middle").attr("dominant-baseline",o.b||"central").attr("font-size",o.s||12).attr("fill",o.c||"#000").text(s);if(o.w)t.attr("font-weight",o.w);if(o.i)t.attr("font-style","italic");if(o.r!=null)t.attr("transform",`rotate(${o.r} ${x} ${y})`);return t;}
[["A",0,24],["B",871,24],["C",1,699],["D",795,699],["E",1,1437],["F",848,1437]].forEach(d=>txt(svg,d[1],d[2],d[0],{a:"start",b:"auto",s:25,w:"bold"}));
function wedge(id,ax,ay,bx,by,cx,cy,col){const mx=(bx+cx)/2,my=(by+cy)/2;const gr=defs.append("linearGradient").attr("id",id).attr("gradientUnits","userSpaceOnUse").attr("x1",ax).attr("y1",ay).attr("x2",mx).attr("y2",my);gr.append("stop").attr("offset",0).attr("stop-color",col);gr.append("stop").attr("offset",1).attr("stop-color",col).attr("stop-opacity",0);return `M${ax},${ay}L${bx},${by}L${cx},${cy}Z`;}

/* --- A --- */
(function(){
const g=svg.append("g");
txt(g,234,124,"KEGG pathways of common 1413 genes",{s:19,c:"#222"});
const cx=254,cy=370.7,rx=228,ry=225;
const rim=a=>{const t=a*Math.PI/180;return [cx+rx*Math.sin(t),cy-ry*Math.cos(t)];};
const nodes={Valine:[239,208.5,7.5,"#5a3a8a"],RNA:[174,223,5,"#b04aa8"],Fatty:[303,222.6,7.5,"#5a3a8a"],Viral:[123,264.5,6.5,"#3a3a80"],Bacterial:[355,264,6.5,"#93dccd"],Tryptophan:[94,324,6,"#5c3c8c"],Cell:[384,324,6.5,"#d4602f"],Notch:[94,390,5,"#5a6a38"],Lysosome:[384,390,8,"#a83a38"],Autophagy:[123,450,8,"#a060c0"],Oxidative:[355,450,8,"#7070c8"],Vasopressin:[174,490.6,5,"#6a9a6a"],Thermogenesis:[303,490.6,5,"#5a6ac0"],Alzheimer:[239,505,5,"#70c040"]};
const fanCol={Valine:"#5a3a8a",RNA:"#b45ab0",Fatty:"#6a5fb0",Viral:"#3d3d80",Bacterial:"#8fdccb",Tryptophan:"#6d469c",Cell:"#e0693a",Notch:"#65703c",Lysosome:"#b5453f",Autophagy:"#a060c0",Oxidative:"#7070c8",Vasopressin:"#80b070",Thermogenesis:"#6a70c8",Alzheimer:"#74c04a"};
pathwayFans.forEach(f=>{const n=nodes[f[0]],sc=d3.scaleLinear([0,f[3]-1],[f[1],f[2]]);
 g.append("g").attr("stroke",fanCol[f[0]]).attr("stroke-width",.55).attr("stroke-opacity",.85).selectAll("line").data(d3.range(f[3])).join("line").attr("x1",n[0]).attr("y1",n[1]).attr("x2",d=>rim(sc(d))[0]).attr("y2",d=>rim(sc(d))[1]);});
[["Tryptophan","Viral"],["Viral","Valine"],["Viral","RNA"],["RNA","Valine"],["Tryptophan","Autophagy"],["Notch","Autophagy"],["Notch","Vasopressin"],["Autophagy","Lysosome"],["Oxidative","Thermogenesis"],["Thermogenesis","Alzheimer"],["Fatty","Oxidative"],["Cell","Lysosome"],["Alzheimer","Lysosome"],["Notch","Lysosome"],["Fatty","Alzheimer"]].forEach(p=>{const a=nodes[p[0]],b=nodes[p[1]];g.append("line").attr("x1",a[0]).attr("y1",a[1]).attr("x2",b[0]).attr("y2",b[1]).attr("stroke",a[3]).attr("stroke-width",1.6).attr("stroke-opacity",.55);});
g.append("g").attr("fill","#f7b5a5").selectAll("circle").data(d3.range(rimLeafCount)).join("circle").attr("cx",d=>rim(d*360/rimLeafCount)[0]).attr("cy",d=>rim(d*360/rimLeafCount)[1]).attr("r",1.2);
g.selectAll(".pn").data(Object.values(nodes)).join("circle").attr("cx",d=>d[0]).attr("cy",d=>d[1]).attr("r",d=>d[2]).attr("fill",d=>d[3]);
const boxes=[[160,341,170,197],[86,228,228,258],[241,376,231,259],[59,201,275,305],[315,439,273,302],[37,179,333,363],[335,460,334,362],[41,183,400,429],[326,453,404,432],[53,196,458,486],[307,433,460,487],[88,230,498,527],[291,418,500,529],[185,312,528,556]];
pathwayNames.forEach((n,i)=>{const b=boxes[i];g.append("rect").attr("x",b[0]).attr("y",b[2]).attr("width",b[1]-b[0]).attr("height",b[3]-b[2]).attr("rx",13).attr("fill","#bdbdbd").attr("opacity",.86);
 const ls=n.split("|"),cyy=(b[2]+b[3])/2;ls.forEach((l,j)=>txt(g,(b[0]+b[1])/2,cyy+(j-(ls.length-1)/2)*14.5,l,{s:12.6,c:"#fff"}));});
/* venn */
[[611.6,267.7,"#5e764c"],[738,267.7,"#7ea2ce"],[675,373.3,"#ec837a"]].forEach(c=>g.append("circle").attr("cx",c[0]).attr("cy",c[1]).attr("r",97).attr("fill",c[2]).attr("opacity",.7));
g.append("path").attr("d",wedge("w1",603,342,491,310,491,378,"#2f76c0")).attr("fill","url(#w1)");
txt(g,596,154,"Up-regulate DEGs",{s:15.8,c:"#3d7040"});txt(g,766,156,"Down-regulated DEGs",{s:15.9,c:"#4f90c8"});txt(g,689,481.6,"Hub genes of Blue Module",{s:15.9,c:"#e85a5a"});
[[576,239,"#000"],[771,239,"#000"],[677,237,"#000"],[677,301,"#000"],[631,331,"#f01020"],[738,337.6,"#000"],[677,427,"#000"]].forEach((p,i)=>txt(g,p[0],p[1],vennCounts[i],{s:i==2||i==3?15:16,w:i==2||i==3?null:"bold",c:p[2]}));
/* list sizes */
txt(g,676,505,"Size of each list",{s:11,i:1,c:"#222"});
const y=d3.scaleLinear([0,7247],[575.6,518]);
const barX=[510,609,710],cols=["#8e9f82","#a5bedd","#f2a8a2"],lc=["#fff","#5d9bd0","#e85a5a"];
listSizes.forEach((v,i)=>{g.append("rect").attr("x",barX[i]).attr("y",y(v)).attr("width",85).attr("height",y(0)-y(v)).attr("fill",cols[i]).attr("stroke",d3.color(cols[i]).darker(.4)).attr("stroke-width",.6);
 txt(g,barX[i]+42,i==0?528:y(v)-7,v,{s:16.5,c:lc[i]});
 txt(g,[541,656,777][i],584,listNames[i],{s:10.6,c:"#222"});});
const ax=g.append("g").attr("transform","translate(496,0)").call(d3.axisLeft(y).tickValues([0,3623.5,7247]).tickSize(3).tickFormat(d=>d)).attr("font-family",F).attr("font-size",10);
ax.select(".domain").attr("d","M0,575.6V503");ax.selectAll("text").attr("fill","#222");
g.append("path").attr("d","M496,575.6H822").attr("stroke","#222").attr("fill","none");
g.append("path").attr("d","M493.5,506L496,498L498.5,506ZM820,573L828,575.6L820,578Z").attr("fill","#222");
})();

/* --- B --- */
(function(){
const heat=d3.scaleLinear([1,2,3,4,5],["#f3cf3a","#f7a42e","#f6802f","#ef5a30","#ee3232"]);
const gs=[["MCC",gMCC,hMCC,917,1118,53.3,177.7,1005,41.7],["DMNC",gDMNC,hDMNC,1128.7,1329.6,53.3,178.3,1223.5,41.7],["Degree",gDegree,hDegree,1341.7,1538.7,54,176,1438,41.7],
["EPC",gEPC,hEPC,916.5,1116.5,212,335.7,1009,201],["BottleNeck",gBottleNeck,hBottleNeck,1129.6,1326,211,333.3,1229,201],["EcCentricity",gEcC,hEcC,1341,1538.7,211,333.3,1455,201],
["Radiality",gRadiality,hRadiality,916.5,1117.8,370.7,494,1017,360.7],["Betweenness",gBetween,hBetween,1130,1326,370,492,1238,360.7],["Stress",gStress,hStress,1341.7,1538.7,371.7,494,1435,360.7],
["ClusteringCoefficient",gCluster,hCluster,916.5,1113.5,533.3,655,1012.6,521],["Closeness",gClose,hClose,1129,1325,534.3,655,1228,521],["MNC",gMNC,hMNC,1342.6,1538.7,534.3,655,1430,521]];
gs.forEach(p=>{const g=svg.append("g");
 const X=d3.scaleBand(d3.range(4),[p[3],p[4]]).paddingInner(.06),Y=d3.scaleBand(d3.range(5),[p[5],p[6]]).paddingInner(.135);
 const cxx=i=>X(i%4)+X.bandwidth()/2,cyy=i=>Y(Math.floor(i/4))+Y.bandwidth()/2;
 const links=[];p[1].forEach((_,i)=>{if(i%4<3)links.push([i,i+1]);const r=Math.floor(i/4);if(r<4)d3.range(4).forEach(c=>links.push([i,(r+1)*4+c]));});
 g.append("g").attr("stroke","#111").attr("stroke-width",.6).selectAll("line").data(links).join("line").attr("x1",d=>cxx(d[0])).attr("y1",d=>cyy(d[0])).attr("x2",d=>cxx(d[1])).attr("y2",d=>cyy(d[1]));
 txt(g,p[7],p[8],p[0],{s:15.8,c:"#111"});
 p[1].forEach((n,i)=>{g.append("rect").attr("x",X(i%4)).attr("y",Y(Math.floor(i/4))).attr("width",X.bandwidth()).attr("height",Y.bandwidth()).attr("rx",2.5).attr("fill",heat(p[2][i]));
  txt(g,cxx(i),cyy(i),n,{s:n.length>7?7.5:8,c:"#3f1a0e"});});
});
})();

/* --- C --- */
(function(){
const g=svg.append("g");
const pos={EEF2:[434,697.7,22,18],CCT2:[606,689.6,22,18.5],CAT:[188,802.6,22,18.5],EPRS:[772,829.4,24,18.5],FN1:[66,979,22,18.5],ACTB:[317,953,25.5,34],GAPDH:[457,967,27,36],EIF2S1:[626.5,941,25,19.5],HIF1A:[395,1108,27,29],HDAC2:[582,1096,25,24],CTNNB1:[205,1133.4,27,25.5],CREBBP:[549.5,1245,25,23],BRCA1:[267,1288,24,24],EP300:[420,1322,24,24]};
g.append("g").attr("fill","none").attr("stroke","#b5b5b5").attr("stroke-opacity",.31).attr("stroke-width",7).selectAll("path").data(netEdges).join("path").attr("d",e=>{const a=pos[e[0]],b=pos[e[1]],dx=b[0]-a[0],dy=b[1]-a[1];return `M${a[0]},${a[1]}Q${(a[0]+b[0])/2+e[2]*dy},${(a[1]+b[1])/2-e[2]*dx} ${b[0]},${b[1]}`;});
netNames.forEach(n=>{const p=pos[n];g.append("circle").attr("cx",p[0]).attr("cy",p[1]).attr("r",p[2]).attr("fill","#90d5df").attr("stroke","#c6cccd").attr("stroke-width",1.8);});
netNames.forEach(n=>{const p=pos[n];txt(g,p[0],p[1],n,{s:p[3],c:"#6f6f6f"});});
txt(g,710,1086.5,"Degree",{s:21,c:"#777"});
const rr=d3.scaleLinear([5,10,15],[21.5,25,27]);
legendDegree.forEach((d,i)=>{const yy=[1136,1204,1271][i];g.append("circle").attr("cx",713).attr("cy",yy).attr("r",rr(d)).attr("fill","#90d5df");txt(g,[757,757,750][i],yy+(i==1?6:0),d,{s:24,c:"#777"});});
})();

/* --- D --- */
(function(){
const g=svg.append("g");
const col=d3.scaleLinear([-5.5,-2.5,0,2.5,5.5],["#3f6fae","#8fb0d6","#ffffff","#e27c76","#d0352b"]);
const X=d3.scaleBand(d3.range(65),[909,1162]),Y=d3.scaleBand(d3.range(91),[747,1398]);
const segLen=[24,15,21,2,3];
heatRows.forEach((row,r)=>{let c=0;row.split("|").forEach((seg,si)=>{for(let k=0;k<segLen[si];k++){const ch=seg[Math.min(k,seg.length-1)];g.append("rect").attr("x",X(c)).attr("y",Y(r)).attr("width",X.bandwidth()+.3).attr("height",Y.bandwidth()+.3).attr("fill",col(heatLevels[ch]));c++;}});});
const L=d3.scalePoint(heatGenes,[746.7,1396]);
heatGenes.forEach(n=>txt(g,1163,L(n),n,{a:"start",s:8.7,c:redGenes.includes(n)?"#f02030":"#222"}));
/* annotation */
g.append("rect").attr("x",909).attr("y",738).attr("width",152).attr("height",5.4).attr("fill","#3fc4c4");
g.append("rect").attr("x",1061).attr("y",738).attr("width",81).attr("height",5.4).attr("fill","#fa8880");
g.append("rect").attr("x",1142).attr("y",737).attr("width",19).attr("height",5.4).attr("fill","#fa8880");
txt(g,994,731,"ACP",{s:15,c:"#222"});txt(g,1116,731,"Nom",{s:15,c:"#222"});
/* colorbar */
const cy=d3.scaleLinear([-5.5,5.47],[976,741]);
defs.append("linearGradient").attr("id","cb").attr("x1",0).attr("y1",1).attr("x2",0).attr("y2",0).selectAll("stop").data(d3.range(0,1.01,.1)).join("stop").attr("offset",d=>d).attr("stop-color",d=>col(-5.5+11*d));
g.append("rect").attr("x",840).attr("y",741).attr("width",16).attr("height",235).attr("fill","url(#cb)");
colorTicks.forEach(t=>txt(g,873,cy(t),t<0?"\u2212"+(-t):t,{a:"end",s:10,c:"#222"}));
/* dendrogram */
let i=0;function parse(){const n={c:[]};while(i<dendroTree.length){const ch=dendroTree[i++];if(ch=="(")n.c.push(parse());else if(ch==".")n.c.push({c:[]});else if(ch==")")break;}return n;}
const root=parse().c[0];let leaf=0;
function lay(n){if(!n.c.length){n.n=1;n.y=Y(leaf)+Y.bandwidth()/2;leaf++;return;}n.c.forEach(lay);n.n=d3.sum(n.c,c=>c.n);n.y=d3.mean(n.c,c=>c.y);}
lay(root);
const hx=d3.scaleLog([2,91],[900,876]);
const dx=n=>n.c.length?hx(n.n):909;
const dg=g.append("g").attr("fill","none").attr("stroke","#333").attr("stroke-width",.7);
(function walk(n){if(!n.c.length)return;const x=dx(n);const ys=n.c.map(c=>c.y);dg.append("path").attr("d",`M${x},${d3.min(ys)}V${d3.max(ys)}`);n.c.forEach(c=>{dg.append("path").attr("d",`M${x},${c.y}H${dx(c)}`);walk(c);});})(root);
/* wedges */
g.append("path").attr("d",wedge("w2",1196.7,1181.7,1270,1040,1316.7,1070,"#2f76c0")).attr("fill","url(#w2)");
g.append("path").attr("d",wedge("w3",1190,1315.7,1261.7,1278,1261.7,1353,"#2f76c0")).attr("fill","url(#w3)");
/* boxes */
const tri=d3.symbol(d3.symbolTriangle,17)();
function bp(c){const b=svg.append("g");
 b.append("rect").attr("x",c.x0).attr("y",c.y0).attr("width",c.x1-c.x0).attr("height",c.y1-c.y0).attr("fill","none").attr("stroke","#999").attr("stroke-width",1.2);
 const y=c.y,xs=[c.xa,c.xn],sc=["#5d7fb5","#f26a6a"];
 const ax=b.append("g").attr("transform",`translate(${c.x0},0)`).call(d3.axisLeft(y).tickValues(c.ticks).tickSize(2).tickFormat(c.fmt));ax.select(".domain").remove();ax.selectAll("text").attr("font-size",c.fs||19).attr("font-family",F).attr("fill","#666").attr("dx",1);ax.selectAll("line").attr("stroke","#777");
 const xa=d3.scalePoint(groupNames,xs);const ax2=b.append("g").attr("transform",`translate(0,${c.y1})`).call(d3.axisBottom(xa).tickSize(2));ax2.select(".domain").remove();ax2.selectAll("text").attr("font-size",17).attr("font-family",F).attr("fill","#666");ax2.selectAll("line").attr("stroke","#777");
 txt(b,c.tx,c.ty,c.t,{s:15.5,c:"#111"});txt(b,c.wx,c.wy,c.w,{s:13.2,c:"#111"});
 b.append("path").attr("d",`M${c.xa},${c.by+8.5}V${c.by}H${c.xn}V${c.by+8.5}`).attr("fill","none").attr("stroke","#555").attr("stroke-width",1);
 c.stats.forEach((s,i)=>{const x=xs[i],w=c.bw/2;
  b.append("path").attr("d",`M${x},${y(s[0])}V${y(s[1])}M${x},${y(s[3])}V${y(s[4])}`).attr("stroke",sc[i]).attr("fill","none");
  b.append("rect").attr("x",x-w).attr("y",y(s[3])).attr("width",c.bw).attr("height",y(s[1])-y(s[3])).attr("fill","none").attr("stroke",i?"#f58a8a":"#6f8fc0").attr("stroke-width",1.2);
  b.append("path").attr("d",`M${x-w},${y(s[2])}H${x+w}`).attr("stroke",i?"#f05a5a":"#4c72ad").attr("stroke-width",1.1);
 });
 b.selectAll(".a").data(c.a).join("circle").attr("cx",d=>c.xa+d[0]*(c.xn-c.xa)).attr("cy",d=>y(d[1])).attr("r",2.1).attr("fill","#23508f");
 b.selectAll(".n").data(c.n).join("path").attr("d",tri).attr("transform",d=>`translate(${c.xn+d[0]*(c.xn-c.xa)},${y(d[1])})`).attr("fill","#e8222a");
 if(c.yl)txt(b,c.yl[0],c.yl[1],"Normalized expression",{s:16,r:-90,c:"#111"});
}
bp({x0:1244.3,x1:1387.7,y0:712,y1:1012.3,y:d3.scaleLinear([6,8],[920.7,816.7]),ticks:[6,8],fmt:d=>d,xa:1283,xn:1348,bw:46,t:"CREBBP",tx:1312,ty:703,w:"Wilcoxon, p = 2.1e\u221206",wx:1317,wy:724,by:732.7,stats:crebbpStats,a:crebbpACP,n:crebbpNom,yl:[1222.7,863]});
bp({x0:1411.7,x1:1561.5,y0:712,y1:1014,y:d3.scaleLinear([4,12],[996.3,732.3]),ticks:[4,6,8,10,12],fmt:d=>d,xa:1452.3,xn:1520.3,bw:48,t:"EP300",tx:1486,ty:703,w:"Wilcoxon, p = 9.2e\u221207",wx:1486,wy:722,by:732.3,stats:ep300Stats,a:ep300ACP,n:ep300Nom});
bp({x0:1311.7,x1:1451.7,y0:1090,y1:1400.7,y:d3.scaleLinear([5,15],[1396,1121]),ticks:[5,7.5,10,12.5,15],fmt:d3.format(".1f"),fs:15.5,xa:1349.3,xn:1412.7,bw:45,t:"HIF1A",tx:1390,ty:1078.7,w:"Wilcoxon, p = 7.8e\u221209",wx:1382,wy:1102,by:1110.3,stats:hif1aStats,a:hif1aACP,n:hif1aNom,yl:[1268,1247.5]});
})();

/* --- E --- */
(function(){
const g=svg.append("g");
const x=d3.scaleLinear([0,60],[136.6,653.8]),y=d3.scaleLinear([0,100],[1878,1461.7]);
const samples=d3.range(1,66);
const bounds=[topTh2,topTh17,topNKT,topMAIT,topGamma,topExhausted,topCD8T,samples.map(()=>100)];
const order=["Th2","Th17","NKT","MAIT","Gamma_delta","Exhausted","CD8_T","CD8_naive"];
bounds.forEach((b,i)=>{const prev=i?bounds[i-1]:null;const a=d3.area().x((d,k)=>x(samples[k])).y0((d,k)=>y(prev?prev[k]:0)).y1(d=>y(d));
 g.append("path").datum(b).attr("d",a).attr("fill",cellColors[cellNames.indexOf(order[i])]);});
g.append("rect").attr("x",x(1)).attr("y",1442.3).attr("width",x(39)-x(1)).attr("height",17).attr("fill",groupColors[0]);
g.append("rect").attr("x",x(39)).attr("y",1442.3).attr("width",x(65)-x(39)).attr("height",17).attr("fill",groupColors[1]);
g.append("path").attr("d",`M${x(39)},1442V1882`).attr("stroke","#111").attr("stroke-dasharray","3.5 3.5").attr("stroke-width",1);
g.append("path").attr("d","M118.6,1882.7V1435.7H813.7").attr("fill","none").attr("stroke","#aaa").attr("stroke-width",1);
g.append("path").attr("d","M118.6,1882.7H813.7").attr("fill","none").attr("stroke","#888").attr("stroke-width",1);
const ax=g.append("g").attr("transform","translate(118.6,0)").call(d3.axisLeft(y).tickValues([0,25,50,75,100]).tickSize(3));ax.select(".domain").remove();
const bx=g.append("g").attr("transform","translate(0,1882.7)").call(d3.axisBottom(x).tickValues([0,20,40,60]).tickSize(3));bx.select(".domain").remove();
[ax,bx].forEach(a=>{a.selectAll("text").attr("font-size",15).attr("font-family",F).attr("fill","#222");a.selectAll("line").attr("stroke","#666");});
txt(g,82,1656.7,"Proportion",{s:15,r:-90,c:"#222"});txt(g,450.5,1916.7,"Number of samples",{s:15,c:"#222"});
txt(g,699,1475.7,"Immune cells",{a:"start",s:15.5,c:"#222"});
cellNames.forEach((n,i)=>{const yy=1491+i*19.7;g.append("rect").attr("x",701.4).attr("y",yy).attr("width",18.6).attr("height",18.4).attr("fill",cellColors[i]);txt(g,722,yy+9,n,{a:"start",s:13,c:"#222"});});
txt(g,699,1672.7,"Group",{a:"start",s:15.5,c:"#222"});
groupNames.forEach((n,i)=>{const yy=1687.3+i*20;g.append("rect").attr("x",701.4).attr("y",yy).attr("width",18.6).attr("height",18.4).attr("fill",groupColors[i]);txt(g,721,yy+9,n,{a:"start",s:13,c:"#222"});});
})();

/* --- F --- */
(function(){
const panels=[
{t:"CD8+ T Cells",d:sCD8H,f:fitCD8H,x:[867.6,999],fy:[1448.3,1652.3],xd:[5,15],xr:[868.6,994.3],yd:[0,.1],yr:[1642.3,1467],yt:[0,.025,.05,.075,.1],yf:".3f",tx:933,ty:1441,xl:"HIF1A",xlX:933,r:"R = 0.43, p = 0.00036",rx:874.6,ry:1467},
{t:"Exhausted T cells",d:sExhH,f:fitExhH,x:[1033.5,1164.9],fy:[1448.3,1652.3],xd:[5,15],xr:[1035.4,1160.3],yd:[0,.15],yr:[1643.3,1465.7],yt:[0,.05,.1,.15],yf:".2f",tx:1103.5,ty:1441,xl:"HIF1A",xlX:1098,r:"R = 0.52, p = 9.5e\u221206",rx:1039,ry:1467},
{t:"Gamma_delta T cells",d:sGamH,f:fitGamH,x:[1200.8,1333],fy:[1448.3,1652.3],xd:[5,15],xr:[1204,1327.6],yd:[0,.2],yr:[1645,1459],yt:[0,.05,.1,.15,.2],yf:".2f",tx:1271,ty:1441,xl:"HIF1A",xlX:1271.5,r:"R = 0.36, p = 0.0031",rx:1212,ry:1468},
{t:"Th17 cells",d:sThH,f:fitThH,x:[1361.7,1494.4],fy:[1448.3,1652.3],xd:[5,15],xr:[1364,1489.7],yd:[0,.3],yr:[1643.3,1474.7],yt:[0,.1,.2,.3],yf:".1f",tx:1431,ty:1441,xl:"HIF1A",xlX:1425,r:"R = 0.32, p = 0.0099",rx:1371,ry:1471},
{t:"CD8+ T Cells",d:sCD8C,f:fitCD8C,x:[866,997.6],fy:[1702.7,1903.3],xd:[5,9],xr:[882.9,981],yd:[0,.1],yr:[1874,1720],yt:[0,.025,.05,.075,.1],yf:".3f",tx:935.8,ty:1697,xl:"CREBBP",xlX:934,r:"R = 0.63, p = 1.4e\u221208",rx:871,ry:1714},
{t:"Exhausted T cells",d:sExhC,f:fitExhC,x:[1032,1161.7],fy:[1703.3,1903.3],xd:[5,9],xr:[1050.6,1147.4],yd:[0,.15],yr:[1894,1720],yt:[0,.05,.1,.15],yf:".2f",tx:1103,ty:1696,xl:"CREBBP",xlX:1104,r:"R = 0.64, p = 8.1e\u221209",rx:1041,ry:1720},
{t:"Gamma_delta T cells",d:sGamC,f:fitGamC,x:[1199.5,1329.4],fy:[1703.3,1903.3],xd:[5,9],xr:[1217.9,1315],yd:[0,.2],yr:[1893.3,1711.7],yt:[0,.05,.1,.15,.2],yf:".2f",tx:1265,ty:1696,xl:"CREBBP",xlX:1263,r:"R = 0.29, p = 0.018",rx:1212,ry:1720},
{t:"Th17 cells",d:sThC,f:fitThC,x:[1360.7,1491],fy:[1702.3,1901.7],xd:[5,9],xr:[1379.2,1475.9],yd:[0,.3],yr:[1892,1727.7],yt:[0,.1,.2,.3],yf:".1f",tx:1431,ty:1696,xl:"CREBBP",xlX:1424,r:"R = 0.4, p = 0.001",rx:1372,ry:1724}];
panels.forEach((p,pi)=>{const g=svg.append("g");const X=d3.scaleLinear(p.xd,p.xr),Y=d3.scaleLinear(p.yd,p.yr);
 const cid="cf"+pi;defs.append("clipPath").attr("id",cid).append("rect").attr("x",p.x[0]).attr("y",p.fy[0]).attr("width",p.x[1]-p.x[0]).attr("height",p.fy[1]-p.fy[0]);
 const inner=g.append("g").attr("clip-path",`url(#${cid})`);
 inner.append("path").datum(p.f).attr("d",d3.area().x(d=>X(d[0])).y0(d=>Y(d[1])).y1(d=>Y(d[3])).curve(d3.curveMonotoneX)).attr("fill","#c9c9c9");
 inner.append("path").datum(p.f).attr("d",d3.line().x(d=>X(d[0])).y(d=>Y(d[2]))).attr("fill","none").attr("stroke","#4a7ac0").attr("stroke-width",1);
 inner.selectAll(".pt").data(p.d).join("circle").attr("cx",d=>X(d[0])).attr("cy",d=>Y(d[1])).attr("r",2.3).attr("fill","#c5573c");
 g.append("rect").attr("x",p.x[0]).attr("y",p.fy[0]).attr("width",p.x[1]-p.x[0]).attr("height",p.fy[1]-p.fy[0]).attr("fill","none").attr("stroke","#aaa").attr("stroke-width",1.2);
 const ay=g.append("g").attr("transform",`translate(${p.x[0]},0)`).call(d3.axisLeft(Y).tickValues(p.yt).tickSize(2).tickPadding(2).tickFormat(d3.format(p.yf)));
 const ax=g.append("g").attr("transform",`translate(0,${p.fy[1]})`).call(d3.axisBottom(X).tickValues(p.xd[1]==15?[5,7.5,10,12.5,15]:[5,6,7,8,9]).tickSize(2).tickPadding(pi<4?3:1).tickFormat(p.xd[1]==15?d3.format(".1f"):d=>d));
 [ax,ay].forEach(a=>{a.select(".domain").remove();a.selectAll("text").attr("font-size",12).attr("font-family",F).attr("fill","#666");a.selectAll("line").attr("stroke","#777");});
 txt(g,p.tx,p.ty,p.t,{s:12,c:"#666"});
 txt(g,p.xlX,pi<4?p.fy[1]+22:1922,p.xl,{s:pi<4?12.5:12,c:"#222"});
 txt(g,p.rx,p.ry,p.r,{a:"start",s:10,c:"#111"});
});
})();
</script></body></html>
